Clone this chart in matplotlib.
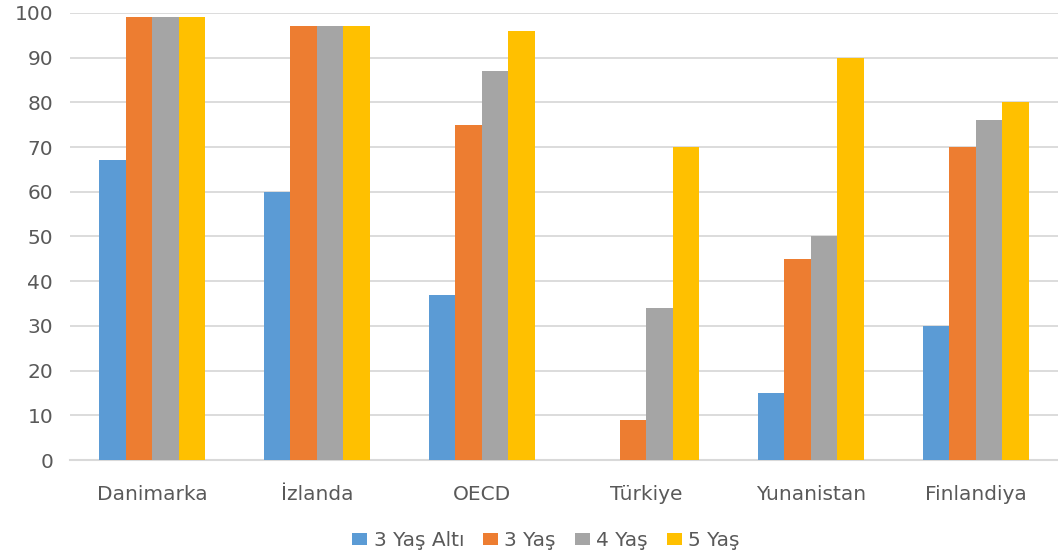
import matplotlib
matplotlib.use("Agg")
import matplotlib.pyplot as plt
import numpy as np

categories = ["Danimarka", "İzlanda", "OECD", "Türkiye", "Yunanistan", "Finlandiya"]
series_names = ["3 Yaş Altı", "3 Yaş", "4 Yaş", "5 Yaş"]
under3 = [67, 60, 37, 0, 15, 30]
age3 = [99, 97, 75, 9, 45, 70]
age4 = [99, 97, 87, 34, 50, 76]
age5 = [99, 97, 96, 70, 90, 80]
yticks = list(range(0, 101, 10))

colors = ["#5B9BD5", "#ED7D31", "#A5A5A5", "#FFC000"]
plt.rcParams['font.family'] = ['DejaVu Sans']

fig = plt.figure(figsize=(10.58, 5.59), dpi=100)
ax = fig.add_axes([0.066, 0.177, 0.934, 0.8])
x = np.arange(len(categories))
w = 0.161
for i, (vals, name) in enumerate(zip([under3, age3, age4, age5], series_names)):
    ax.bar(x + (i - 1.5) * w, vals, width=w, color=colors[i], label=name, zorder=3)

ax.set_xlim(-0.5, len(categories) - 0.5)
ax.set_ylim(0, 100)
ax.set_yticks(yticks)
ax.set_xticks(x)
ax.set_xticklabels(categories)
ax.grid(axis='y', color='#D9D9D9', linewidth=1.3, zorder=0)
for s in ['top', 'right', 'left']:
    ax.spines[s].set_visible(False)
ax.spines['bottom'].set_color('#D9D9D9')
ax.spines['bottom'].set_linewidth(1.5)
ax.tick_params(axis='both', length=0, labelsize=14.5, colors='#595959')
ax.tick_params(axis='x', pad=18)
ax.tick_params(axis='y', pad=12)

leg = fig.legend(loc='center', bbox_to_anchor=(0.516, 0.033), ncol=4, frameon=False,
                 fontsize=14.5, handlelength=0.75, handleheight=0.6, handletextpad=0.3,
                 columnspacing=0.95)
for t in leg.get_texts():
    t.set_color('#595959')

fig.savefig("out.png", dpi=100, facecolor='white')
